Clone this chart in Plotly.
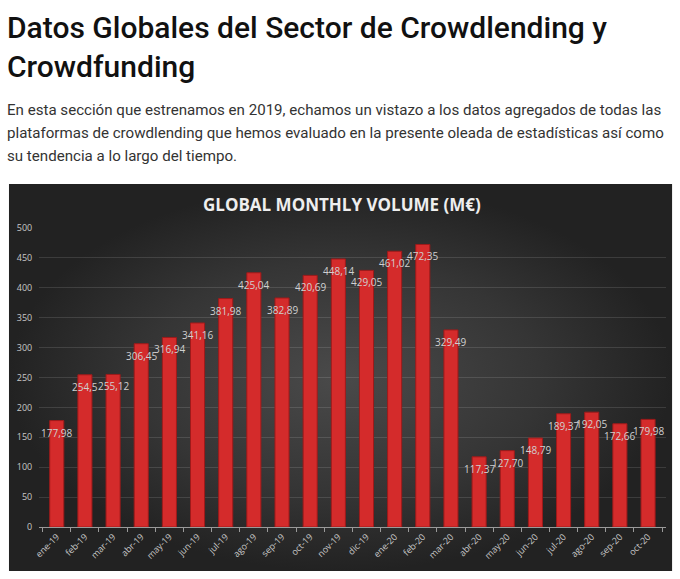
import plotly.graph_objects as go

W, H = 680, 579

months = ["ene-19", "feb-19", "mar-19", "abr-19", "may-19", "jun-19", "jul-19",
          "ago-19", "sep-19", "oct-19", "nov-19", "dic-19", "ene-20", "feb-20",
          "mar-20", "abr-20", "may-20", "jun-20", "jul-20", "ago-20", "sep-20", "oct-20"]
volume = [177.98, 254.5, 255.12, 306.45, 316.94, 341.16, 381.98, 425.04, 382.89,
          420.69, 448.14, 429.05, 461.02, 472.35, 329.49, 117.37, 127.70, 148.79,
          189.37, 192.05, 172.66, 179.98]
labels = ["177,98", "254,5", "255,12", "306,45", "316,94", "341,16", "381,98",
          "425,04", "382,89", "420,69", "448,14", "429,05", "461,02", "472,35",
          "329,49", "117,37", "127,70", "148,79", "189,37", "192,05", "172,66", "179,98"]
y_ticks = [0, 50, 100, 150, 200, 250, 300, 350, 400, 450, 500]

page_title = "Datos Globales del Sector de Crowdlending y<br>Crowdfunding"
page_text = ["En esta sección que estrenamos en 2019, echamos un vistazo a los datos agregados de todas las",
             "plataformas de crowdlending que hemos evaluado en la presente oleada de estadísticas así como",
             "su tendencia a lo largo del tiempo."]
chart_title = "GLOBAL MONTHLY VOLUME (M€)"


def px(x):
    return x / W


def py(y):
    return 1 - y / H


fig = go.Figure()

# dark chart panel with radial gradient (full-page helper axes in pixels)
bx0, bx1, by0, by1 = 2, 672, 181, 577
fig.add_trace(go.Scatter(
    x=[bx0, bx1, bx1, bx0, bx0], y=[by0, by0, by1, by1, by0],
    mode="lines", fill="toself", line=dict(width=0),
    fillgradient=dict(type="radial",
                      colorscale=[[0, "#4a4a4a"], [0.6, "#353535"], [1, "#222222"]]),
    hoverinfo="skip", showlegend=False, xaxis="x", yaxis="y"))

fig.add_trace(go.Bar(
    x=months, y=volume, xaxis="x2", yaxis="y2",
    marker=dict(color="#d42b2b", line=dict(color="#9e1a1a", width=1)),
    width=0.5, showlegend=False, hoverinfo="x+y"))

annotations = []
for m, v, t in zip(months, volume, labels):
    annotations.append(dict(x=m, y=v, xref="x2", yref="y2", text=t, showarrow=False,
                            yanchor="middle", yshift=-12,
                            font=dict(family="Open Sans", size=10, color="#d0d0d0")))

annotations.append(dict(x=px(338), y=py(202), xref="paper", yref="paper",
                        text=chart_title, showarrow=False, xanchor="center", yanchor="middle",
                        font=dict(family="Open Sans", size=17, color="#eeeeee", weight="bold")))

annotations.append(dict(x=0, y=py(1), xref="paper", yref="paper", text=page_title,
                        showarrow=False, xanchor="left", yanchor="top", align="left",
                        xshift=-2,
                        font=dict(family="Roboto", size=30, color="#111111", weight=500)))
for i, line in enumerate(page_text):
    annotations.append(dict(x=0, y=py(105 + 23.5 * i), xref="paper", yref="paper",
                            text=line, showarrow=False, xanchor="left", yanchor="middle",
                            align="left", xshift=-2,
                            font=dict(family="Roboto", size=15.1, color="#333333")))

fig.update_layout(
    width=W, height=H, margin=dict(l=0, r=0, t=0, b=0),
    paper_bgcolor="white", plot_bgcolor="rgba(0,0,0,0)",
    xaxis=dict(domain=[0, 1], range=[0, W], visible=False, fixedrange=True),
    yaxis=dict(domain=[0, 1], range=[H, 0], visible=False, fixedrange=True),
    xaxis2=dict(domain=[px(32.6), px(665.4)], anchor="y2", type="category",
                tickangle=-45, tickfont=dict(family="Open Sans", size=9, color="#c8c8c8"),
                showline=True, linecolor="#9a9a9a", linewidth=1,
                ticks="outside", tickson="boundaries", ticklen=4, tickcolor="#9a9a9a",
                showgrid=False),
    yaxis2=dict(domain=[py(532), py(226)], anchor="x2", range=[0, 500],
                tickvals=y_ticks, tickfont=dict(family="Open Sans", size=9, color="#c8c8c8"),
                showgrid=True, gridcolor="rgba(255,255,255,0.12)", gridwidth=1,
                zeroline=False, ticks="", showline=False, ticklabelstandoff=6),
    annotations=annotations,
    bargap=0.5,
)

fig.write_html("out.html")
